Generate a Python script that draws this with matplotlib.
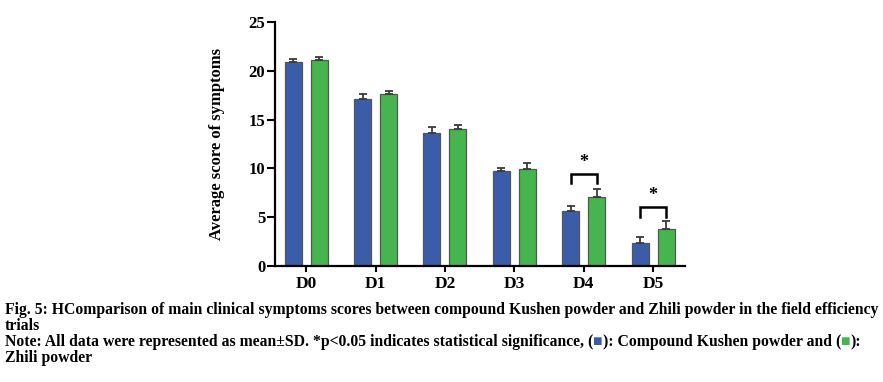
import numpy as np
import matplotlib.pyplot as plt

days = ['D0', 'D1', 'D2', 'D3', 'D4', 'D5']
kushen_mean = [20.9, 17.1, 13.6, 9.75, 5.6, 2.3]
kushen_sd = [0.3, 0.5, 0.6, 0.3, 0.5, 0.7]
zhili_mean = [21.1, 17.6, 14.0, 9.9, 7.05, 3.8]
zhili_sd = [0.3, 0.3, 0.5, 0.6, 0.85, 0.8]

# significance brackets: (group index, bracket top)
sig_groups = [4, 5]
sig_heights = [9.4, 6.0]

blue = '#3b5ca8'
green = '#47b54e'

plt.rcParams['font.family'] = ['Liberation Serif', 'DejaVu Serif']

fig = plt.figure(figsize=(8.83, 3.82), dpi=100)
ax = fig.add_axes([0.3114, 0.3044, 0.4644, 0.6372])

x = np.arange(len(days))
w = 0.245
off = 0.187
err_kw = dict(ecolor='#3a3a3a', elinewidth=1.3, capsize=2.6, capthick=1.3)
ax.bar(x - off, kushen_mean, w, color=blue, edgecolor='#555555', linewidth=0.9,
       yerr=[np.zeros(6), kushen_sd], error_kw=err_kw, zorder=2)
ax.bar(x + off, zhili_mean, w, color=green, edgecolor='#555555', linewidth=0.9,
       yerr=[np.zeros(6), zhili_sd], error_kw=err_kw, zorder=2)

for g, h in zip(sig_groups, sig_heights):
    x0, x1 = g - off, g + off
    ax.plot([x0, x0, x1, x1], [h - 0.95, h, h, h - 0.95], color='black', lw=1.8,
            solid_joinstyle='miter', clip_on=False)
    ax.text(g, h + 0.35, '*', ha='center', va='bottom', fontsize=13, fontweight='bold')

ax.set_xlim(-0.45, 5.46)
ax.set_ylim(0, 25)
ax.set_yticks([0, 5, 10, 15, 20, 25])
ax.set_xticks(x)
ax.set_xticklabels(days)
for s in ['top', 'right']:
    ax.spines[s].set_visible(False)
for s in ['left', 'bottom']:
    ax.spines[s].set_linewidth(1.6)
ax.tick_params(axis='y', length=6, width=1.5, labelsize=12, pad=1)
ax.tick_params(axis='x', length=4.5, width=1.5, labelsize=12.5, pad=3)
for lab in ax.get_xticklabels() + ax.get_yticklabels():
    lab.set_fontweight('bold')
ax.set_ylabel('Average score of symptoms', fontsize=12, fontweight='bold', labelpad=17)

# caption
cap = dict(fontsize=11.3, fontweight='bold', ha='left', va='center')
x0 = 5 / 883
fig.text(x0, 1 - 310 / 382, 'Fig. 5: HComparison of main clinical symptoms scores between compound Kushen powder and Zhili powder in the field efficiency', **cap)
fig.text(x0, 1 - 326 / 382, 'trials', **cap)
fig.text(x0, 1 - 358 / 382, 'Zhili powder', **cap)

# note line with coloured squares
pieces = [('Note: All data were represented as mean\u00b1SD. *p<0.05 indicates statistical significance, (', 'black'),
          ('\u25a0', blue),
          ('): Compound Kushen powder and (', 'black'),
          ('\u25a0', green),
          ('):', 'black')]
renderer = fig.canvas.get_renderer()
xp = x0
for txt, col in pieces:
    t = fig.text(xp, 1 - 342 / 382, txt, color=col, **cap)
    bb = t.get_window_extent(renderer)
    xp = bb.x1 / fig.bbox.width

fig.savefig('out.png', dpi=100)
